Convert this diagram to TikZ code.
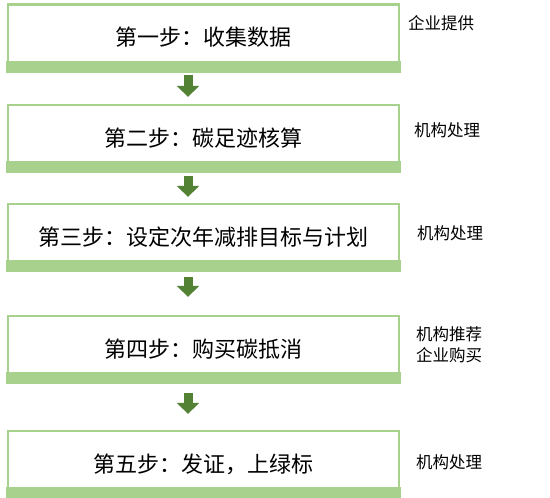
\documentclass[tikz,border=0pt]{standalone}
\usepackage{fontspec}
\newfontfamily\cjk{Noto Sans CJK SC}
\usetikzlibrary{positioning, arrows.meta}
\definecolor{lightleaf}{HTML}{A9D18E}
\definecolor{darkleaf}{HTML}{548235}

\begin{document}
\begin{tikzpicture}[x=1pt,y=-1pt,
   stepbox/.style={draw=lightleaf, line width=2.25pt, fill=white, inner sep=0pt,
      minimum width=391pt, minimum height=66pt, font=\cjk\fontsize{22}{26}\selectfont},
   sidenote/.style={anchor=west, inner sep=0pt, align=left, font=\cjk\fontsize{16.5}{21}\selectfont},
   stepflow/.style={darkleaf, line width=9pt, -{Triangle[width=22pt,length=11pt]}}]
\useasboundingbox (0,0) rectangle (550,498);
% steps
\node[stepbox] (s1) at (203.5,37.5) {第一步：收集数据};
\node[stepbox] (s2) at (203.5,138) {第二步：碳足迹核算};
\node[stepbox] (s3) at (203.5,237) {第三步：设定次年减排目标与计划};
\node[stepbox] (s4) at (203.5,349) {第四步：购买碳抵消};
\node[stepbox] (s5) at (203.5,464) {第五步：发证，上绿标};
\foreach \i in {1,...,5}
   \fill[lightleaf] ([xshift=-1.1pt,yshift=-1.1pt]s\i.south west) rectangle ([xshift=1.1pt,yshift=10.9pt]s\i.south east);
% who does it
\node[sidenote] (n1) at (408,23) {企业提供};
\node[sidenote] (n2) at (414,130) {机构处理};
\node[sidenote] (n3) at (417,233) {机构处理};
\node[sidenote] (n4) at (416,345) {机构推荐\\企业购买};
\node[sidenote] (n5) at (416,462) {机构处理};
% flow
\draw[stepflow] ([xshift=-15.5pt,yshift=-3pt]s1.south) -- ([xshift=-15.5pt,yshift=7pt]s2.north);
\draw[stepflow] ([xshift=-15.5pt,yshift=-4pt]s2.south) -- ([xshift=-15.5pt,yshift=6pt]s3.north);
\draw[stepflow] ([xshift=-15.5pt,yshift=-6pt]s3.south) -- ([xshift=-15.5pt,yshift=18pt]s4.north);
\draw[stepflow] ([xshift=-15.5pt,yshift=-10pt]s4.south) -- ([xshift=-15.5pt,yshift=16pt]s5.north);
\end{tikzpicture}
\end{document}
